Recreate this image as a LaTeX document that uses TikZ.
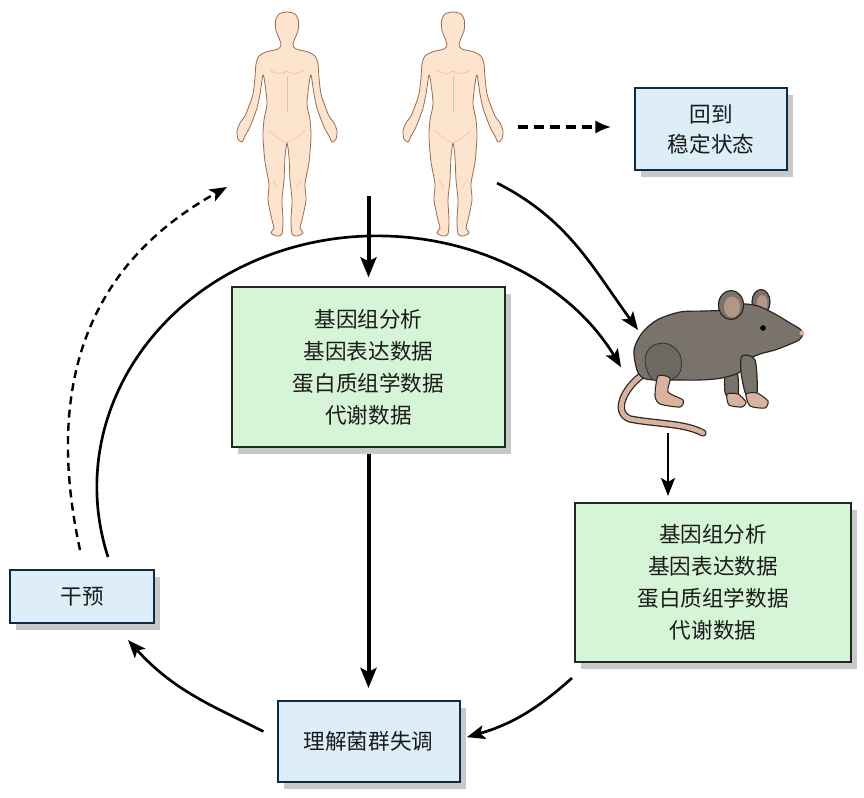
\documentclass[tikz,border=0pt]{standalone}
\usepackage{fontspec}
\newfontfamily\cjk{Noto Sans CJK SC}
\usetikzlibrary{arrows.meta,shadows}
\definecolor{skin}{HTML}{FCE4CE}
\definecolor{skinline}{HTML}{9B6B50}
\definecolor{skindetail}{HTML}{EDBE9A}
\definecolor{gfill}{HTML}{D6F5D6}
\definecolor{gline}{HTML}{1E2A1E}
\definecolor{bfill}{HTML}{DDEEF8}
\definecolor{bline}{HTML}{0E2A47}
\definecolor{shadowc}{HTML}{C8C8C8}
\definecolor{txt}{HTML}{1A1A1A}
\definecolor{mgray}{HTML}{7A736B}
\definecolor{mdark}{HTML}{2B2624}
\definecolor{mhaunch}{HTML}{6E6862}
\definecolor{mpink}{HTML}{D9B3A0}
\definecolor{mear}{HTML}{B39684}
\newcommand\humanfig[1]{%
\begin{scope}[shift={#1}]
\draw[fill=skin,draw=skinline,line width=0.6pt] plot[smooth cycle,tension=0.45] coordinates {
(0,0) (8,2) (11.5,9) (11,19) (8,26) (6,33) (9,37) (21,40) (28,44) (31,52) (32,66) (34,82) (38,94) (42,104) (47,111) (50,119) (49,127) (45,130) (42,124) (38,117) (35,110) (30,96) (27,82) (24,63) (22,72) (20,92) (23,108) (24,125) (22,150) (18,172) (19,188) (15,208) (13,216) (16,221) (10,224) (5,222) (4,208) (5,188) (3,168) (2,145) (0,131) (-2,145) (-3,168) (-5,188) (-4,208) (-5,222) (-10,224) (-16,221) (-13,216) (-15,208) (-19,188) (-18,172) (-22,150) (-24,125) (-23,108) (-20,92) (-22,72) (-24,63) (-27,82) (-30,96) (-35,110) (-38,117) (-42,124) (-45,130) (-49,127) (-50,119) (-47,111) (-42,104) (-38,94) (-34,82) (-32,66) (-31,52) (-28,44) (-21,40) (-9,37) (-6,33) (-8,26) (-11,19) (-11.5,9) (-8,2)};
\draw[skindetail,line width=0.5pt] (-17,58) .. controls (-10,63) and (-4,62) .. (0,59) .. controls (4,62) and (10,63) .. (17,58);
\draw[skindetail,line width=0.4pt] (0,64) -- (0,100);
\draw[skindetail,line width=0.4pt] (-14,168) -- (-9,176) (14,168) -- (9,176);
\draw[skindetail,line width=0.4pt] (-18,118) .. controls (-10,126) .. (-2,130) (18,118) .. controls (10,126) .. (2,130);
\end{scope}}
\begin{document}
\begin{tikzpicture}[x=0.75pt,y=-0.75pt,
  every node/.style={text=txt},
  boxbase/.style={line width=1.5pt, inner sep=0pt, align=center,
    font=\cjk\fontsize{16.2}{24}\selectfont,
    general shadow={fill=shadowc, shadow xshift=4.8pt, shadow yshift=-5.2pt}},
  greenbox/.style={boxbase, draw=gline, fill=gfill},
  bluebox/.style={boxbase, draw=bline, fill=bfill},
  thickarrow/.style={line width=3pt, -{Stealth[length=15pt,width=12pt,inset=3pt]}},
  curvearrow/.style={line width=2pt, -{Stealth[length=13.5pt,width=10.5pt,inset=3pt]}},
  dasharrow/.style={line width=2.6pt, dash pattern=on 7.5pt off 4.5pt, -{Latex[length=12pt,width=10pt]}},
  dasharc/.style={line width=1.8pt, dash pattern=on 6pt off 4pt, -{Stealth[length=13pt,width=10pt,inset=3pt]}}
]
\useasboundingbox[fill=white] (0,0) rectangle (864,797);

% humans
\humanfig{(287,12)}
\humanfig{(453,12)}

% mouse
\draw[mdark,line width=5.5pt,line cap=round] (641,376) .. controls (625,388) and (612,412) .. (630,419) .. controls (655,424) and (685,423) .. (703,433);
\draw[mpink,line width=3.6pt,line cap=round] (641,376) .. controls (625,388) and (612,412) .. (630,419) .. controls (655,424) and (685,423) .. (703,433);
% far front leg
\draw[fill=mgray,draw=mdark,line width=0.9pt] plot[smooth cycle,tension=0.5] coordinates {(726,370) (737,372) (738,396) (731,400) (725,392)};
\draw[fill=mpink,draw=mdark,line width=0.8pt] plot[smooth cycle,tension=0.4] coordinates {(727,394) (738,394) (746,402) (742,407) (729,405)};
\draw[fill=mgray,draw=mdark,line width=0.9pt] (761,302) ellipse[x radius=9, y radius=12.5];
\fill[mear] (762,304) ellipse[x radius=5.5, y radius=9];
% body
\draw[fill=mgray,draw=mdark,line width=0.9pt] plot[smooth cycle,tension=0.5] coordinates {
(637,370) (634,350) (642,333) (657,320) (680,312) (705,311) (722,310) (740,304) (758,306) (775,314) (790,323) (800,329) (803,334) (799,340) (788,345) (775,350) (760,354) (748,360) (740,372) (722,378) (700,380) (675,380) (655,380) (643,378)};
\draw[fill=mhaunch,draw=mdark,line width=0.5pt] plot[smooth cycle,tension=0.6] coordinates {(645,360) (652,346) (668,344) (680,355) (680,372) (668,381) (652,379)};
% near front leg
\draw[fill=mgray,draw=mdark,line width=0.9pt] plot[smooth cycle,tension=0.5] coordinates {(742,356) (755,360) (757,394) (750,399) (745,392) (741,372)};
\draw[fill=mpink,draw=mdark,line width=0.8pt] plot[smooth cycle,tension=0.4] coordinates {(746,394) (757,393) (768,401) (765,408) (750,406)};
% hind foot
\draw[fill=mpink,draw=mdark,line width=0.8pt] plot[smooth cycle,tension=0.4] coordinates {(658,376) (670,378) (668,392) (683,400) (680,407) (660,404) (655,396)};
\draw[fill=mgray,draw=mdark,line width=0.9pt] (731,305) ellipse[x radius=12.5, y radius=14.5];
\fill[mear] (732,307) ellipse[x radius=8, y radius=10.5];
\fill[black] (763,328) circle[radius=2.8];
\fill[mpink] (802,333) circle[radius=2.4];

% boxes
\node[bluebox, minimum width=114pt, minimum height=61.5pt, font=\cjk\fontsize{16.2}{22.5}\selectfont] (stable) at (711,129) {回到\\稳定状态};
\node[greenbox, minimum width=204.75pt, minimum height=120pt] (g1) at (368.5,367) {基因组分析\\基因表达数据\\蛋白质组学数据\\代谢数据};
\node[greenbox, minimum width=207pt, minimum height=119.25pt] (g2) at (713,582.5) {基因组分析\\基因表达数据\\蛋白质组学数据\\代谢数据};
\node[bluebox, minimum width=108pt, minimum height=39.75pt] (gan) at (82,596.5) {干预};
\node[bluebox, minimum width=136.5pt, minimum height=60.75pt] (und) at (368.5,741.5) {理解菌群失调};

% connectors
\coordinate (h1b) at (368.5,196);
\draw[thickarrow, shorten >=6.5pt] (h1b) -- (h1b |- g1.north);
\draw[thickarrow, shorten <=4.5pt, shorten >=9pt] (g1.south) -- (und.north);
\coordinate (ds) at (518,127);
\draw[dasharrow, shorten >=17pt] (ds) -- (ds -| stable.west);
\coordinate (h2s) at (497,183);
\coordinate (mtop) at (638,330);
\draw[curvearrow] (h2s) to[out=-27,in=126] (mtop);
\coordinate (arcs) at (108,557);
\draw[curvearrow] (arcs) arc[start angle=163.8, end angle=331.5, x radius=279, y radius=251];
\coordinate (ms) at (668,433);
\draw[curvearrow, shorten >=4.5pt] (ms) -- (ms |- g2.north);
\coordinate (g2s) at (572,678);
\draw[curvearrow, shorten >=5pt] (g2s) to[out=222,in=16] ([yshift=1.9pt]und.east);
\coordinate (gane) at (128,640);
\draw[curvearrow, shorten <=11pt] ([yshift=2.5pt]und.west) to[out=153,in=-48] (gane);
\coordinate (das) at (80,550);
\coordinate (dae) at (227,187);
\draw[dasharc] (das) .. controls (45,388) and (85,266) .. (dae);
\end{tikzpicture}
\end{document}
